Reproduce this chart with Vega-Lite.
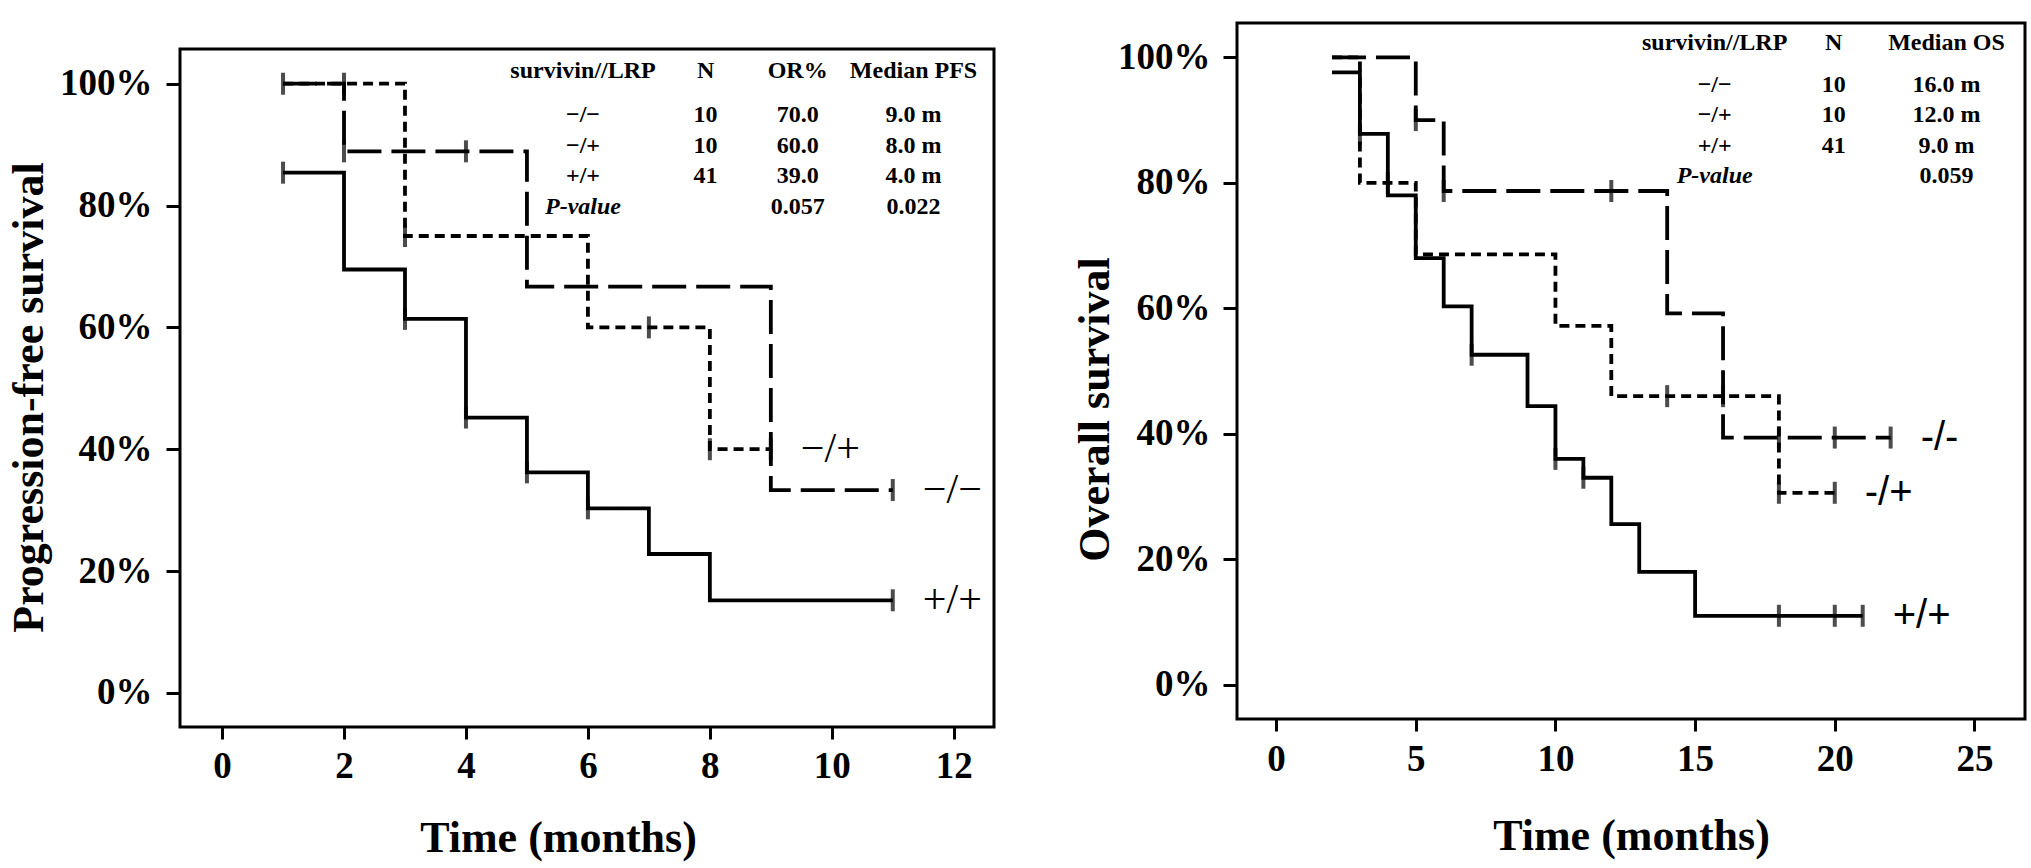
{
  "$schema": "https://vega.github.io/schema/vega-lite/v6.json",
  "background": "white",
  "padding": {"left": 5, "top": 21, "right": 5, "bottom": 5},
  "spacing": 75,
  "datasets": {
    "pfs": [
      {"group": "−/−", "time": 1, "surv": 1.0},
      {"group": "−/−", "time": 2, "surv": 0.889},
      {"group": "−/−", "time": 5, "surv": 0.667},
      {"group": "−/−", "time": 9, "surv": 0.333},
      {"group": "−/−", "time": 11, "surv": 0.333},
      {"group": "−/+", "time": 1, "surv": 1.0},
      {"group": "−/+", "time": 3, "surv": 0.75},
      {"group": "−/+", "time": 6, "surv": 0.6},
      {"group": "−/+", "time": 8, "surv": 0.4},
      {"group": "−/+", "time": 9, "surv": 0.4},
      {"group": "+/+", "time": 1, "surv": 0.854},
      {"group": "+/+", "time": 2, "surv": 0.695},
      {"group": "+/+", "time": 3, "surv": 0.614},
      {"group": "+/+", "time": 4, "surv": 0.452},
      {"group": "+/+", "time": 5, "surv": 0.362},
      {"group": "+/+", "time": 6, "surv": 0.303},
      {"group": "+/+", "time": 7, "surv": 0.228},
      {"group": "+/+", "time": 8, "surv": 0.152},
      {"group": "+/+", "time": 11, "surv": 0.152}
    ],
    "pfsCensor": [
      {"group": "−/−", "time": 1, "surv": 1.0},
      {"group": "−/−", "time": 2, "surv": 0.889},
      {"group": "−/−", "time": 4, "surv": 0.889},
      {"group": "−/−", "time": 11, "surv": 0.333},
      {"group": "−/+", "time": 2, "surv": 1.0},
      {"group": "−/+", "time": 3, "surv": 0.75},
      {"group": "−/+", "time": 7, "surv": 0.6},
      {"group": "−/+", "time": 8, "surv": 0.4},
      {"group": "−/+", "time": 9, "surv": 0.4},
      {"group": "+/+", "time": 1, "surv": 0.854},
      {"group": "+/+", "time": 3, "surv": 0.614},
      {"group": "+/+", "time": 4, "surv": 0.452},
      {"group": "+/+", "time": 5, "surv": 0.362},
      {"group": "+/+", "time": 6, "surv": 0.303},
      {"group": "+/+", "time": 11, "surv": 0.152}
    ],
    "pfsTable": [
      {"row": "h", "c1": "survivin//LRP", "c2": "N", "c3": "OR%", "c4": "Median PFS"},
      {"row": "1", "c1": "−/−", "c2": "10", "c3": "70.0", "c4": "9.0 m"},
      {"row": "2", "c1": "−/+", "c2": "10", "c3": "60.0", "c4": "8.0 m"},
      {"row": "3", "c1": "+/+", "c2": "41", "c3": "39.0", "c4": "4.0 m"},
      {"row": "p", "c1": "P-value", "c2": "", "c3": "0.057", "c4": "0.022"}
    ],
    "os": [
      {"group": "-/-", "time": 2, "surv": 1.0},
      {"group": "-/-", "time": 5, "surv": 0.9},
      {"group": "-/-", "time": 6, "surv": 0.787},
      {"group": "-/-", "time": 14, "surv": 0.592},
      {"group": "-/-", "time": 16, "surv": 0.394},
      {"group": "-/-", "time": 22, "surv": 0.394},
      {"group": "-/+", "time": 2, "surv": 1.0},
      {"group": "-/+", "time": 3, "surv": 0.8},
      {"group": "-/+", "time": 5, "surv": 0.686},
      {"group": "-/+", "time": 10, "surv": 0.572},
      {"group": "-/+", "time": 12, "surv": 0.46},
      {"group": "-/+", "time": 18, "surv": 0.306},
      {"group": "-/+", "time": 20, "surv": 0.306},
      {"group": "+/+", "time": 2, "surv": 0.976},
      {"group": "+/+", "time": 3, "surv": 0.878},
      {"group": "+/+", "time": 4, "surv": 0.78},
      {"group": "+/+", "time": 5, "surv": 0.68},
      {"group": "+/+", "time": 6, "surv": 0.603},
      {"group": "+/+", "time": 7, "surv": 0.526},
      {"group": "+/+", "time": 9, "surv": 0.444},
      {"group": "+/+", "time": 10, "surv": 0.36},
      {"group": "+/+", "time": 11, "surv": 0.33},
      {"group": "+/+", "time": 12, "surv": 0.256},
      {"group": "+/+", "time": 13, "surv": 0.18},
      {"group": "+/+", "time": 15, "surv": 0.11},
      {"group": "+/+", "time": 21, "surv": 0.11}
    ],
    "osCensor": [
      {"group": "-/-", "time": 5, "surv": 0.9},
      {"group": "-/-", "time": 6, "surv": 0.787},
      {"group": "-/-", "time": 12, "surv": 0.787},
      {"group": "-/-", "time": 18, "surv": 0.394},
      {"group": "-/-", "time": 20, "surv": 0.394},
      {"group": "-/-", "time": 22, "surv": 0.394},
      {"group": "-/+", "time": 4, "surv": 0.8},
      {"group": "-/+", "time": 14, "surv": 0.46},
      {"group": "-/+", "time": 16, "surv": 0.46},
      {"group": "-/+", "time": 18, "surv": 0.306},
      {"group": "-/+", "time": 20, "surv": 0.306},
      {"group": "+/+", "time": 3, "surv": 0.878},
      {"group": "+/+", "time": 7, "surv": 0.526},
      {"group": "+/+", "time": 10, "surv": 0.36},
      {"group": "+/+", "time": 11, "surv": 0.33},
      {"group": "+/+", "time": 18, "surv": 0.11},
      {"group": "+/+", "time": 20, "surv": 0.11},
      {"group": "+/+", "time": 21, "surv": 0.11}
    ],
    "osTable": [
      {"row": "h", "c1": "survivin//LRP", "c2": "N", "c3": "Median OS"},
      {"row": "1", "c1": "−/−", "c2": "10", "c3": "16.0 m"},
      {"row": "2", "c1": "−/+", "c2": "10", "c3": "12.0 m"},
      {"row": "3", "c1": "+/+", "c2": "41", "c3": "9.0 m"},
      {"row": "p", "c1": "P-value", "c2": "", "c3": "0.059"}
    ]
  },
  "hconcat": [
    {
      "spacing": 23,
      "vconcat": [
        {
          "width": 814,
          "height": 1,
          "view": {"stroke": null},
          "mark": {"type": "text"},
          "encoding": {"text": {"value": " "}}
        },
        {
          "width": 814,
          "height": 678,
          "resolve": {"scale": {"y": "independent"}},
          "layer": [
            {
              "layer": [
                {
                  "data": {"name": "pfs"},
                  "mark": {"type": "line", "interpolate": "step-after", "strokeWidth": 3.8, "color": "black", "strokeCap": "butt"},
                  "encoding": {
                    "x": {
                      "field": "time", "type": "quantitative",
                      "scale": {"domain": [-0.69, 12.66], "nice": false, "zero": false},
                      "axis": {"values": [0, 2, 4, 6, 8, 10, 12], "format": "d", "title": "Time (months)", "tickSize": 12, "labelPadding": 9, "titleX": 378, "titleY": 111, "titleBaseline": "middle"}
                    },
                    "y": {
                      "field": "surv", "type": "quantitative",
                      "scale": {"domain": [-0.056, 1.057], "nice": false, "zero": false},
                      "axis": {"values": [0, 0.2, 0.4, 0.6, 0.8, 1], "format": ".0%", "title": "Progression-free survival", "tickSize": 14, "labelPadding": 14, "titleX": -151, "titleY": 348, "titleBaseline": "middle", "titleAngle": -90}
                    },
                    "strokeDash": {
                      "field": "group", "type": "nominal",
                      "scale": {"domain": ["−/−", "−/+", "+/+"], "range": [[34, 10], [10, 6], [1, 0]]},
                      "legend": null
                    }
                  }
                },
                {
                  "data": {"name": "pfsCensor"},
                  "mark": {"type": "tick", "orient": "vertical", "size": 22, "thickness": 4, "color": "black"},
                  "encoding": {
                    "x": {"field": "time", "type": "quantitative", "scale": {"domain": [-0.69, 12.66], "nice": false, "zero": false}},
                    "y": {"field": "surv", "type": "quantitative", "scale": {"domain": [-0.056, 1.057], "nice": false, "zero": false}}
                  }
                },
                {
                  "data": {"name": "pfs"},
                  "transform": [{"aggregate": [{"op": "argmax", "field": "time", "as": "last"}], "groupby": ["group"]}],
                  "mark": {"type": "text", "align": "left", "baseline": "middle", "dx": 30, "fontSize": 42, "font": "Liberation Serif", "color": "black"},
                  "encoding": {
                    "x": {"field": "last.time", "type": "quantitative", "scale": {"domain": [-0.69, 12.66], "nice": false, "zero": false}},
                    "y": {"field": "last.surv", "type": "quantitative", "scale": {"domain": [-0.056, 1.057], "nice": false, "zero": false}},
                    "text": {"field": "group"}
                  }
                }
              ]
            },
            {
              "data": {"name": "pfsTable"},
              "layer": [
                {
                  "transform": [{"filter": "datum.row == 'h'"}],
                  "mark": {"type": "text", "fontWeight": "bold", "fontSize": 24, "baseline": "middle", "dy": -13.5, "font": "Liberation Serif", "color": "black"},
                  "encoding": {
                    "x": {"datum": 5.92, "type": "quantitative", "scale": {"domain": [-0.69, 12.66], "nice": false, "zero": false}},
                    "y": {"field": "row", "type": "ordinal", "scale": {"type": "point", "domain": ["h", "1", "2", "3", "p"], "range": [35.5, 157.5], "padding": 0}, "axis": null},
                    "text": {"field": "c1"}
                  }
                },
                {
                  "transform": [{"filter": "datum.row == '1' || datum.row == '2' || datum.row == '3'"}],
                  "mark": {"type": "text", "fontWeight": "bold", "fontSize": 24, "baseline": "middle", "font": "Liberation Serif", "color": "black"},
                  "encoding": {
                    "x": {"datum": 5.92, "type": "quantitative", "scale": {"domain": [-0.69, 12.66], "nice": false, "zero": false}},
                    "y": {"field": "row", "type": "ordinal", "scale": {"type": "point", "domain": ["h", "1", "2", "3", "p"], "range": [35.5, 157.5], "padding": 0}, "axis": null},
                    "text": {"field": "c1"}
                  }
                },
                {
                  "transform": [{"filter": "datum.row == 'p'"}],
                  "mark": {"type": "text", "fontWeight": "bold", "fontStyle": "italic", "fontSize": 24, "baseline": "middle", "font": "Liberation Serif", "color": "black"},
                  "encoding": {
                    "x": {"datum": 5.92, "type": "quantitative", "scale": {"domain": [-0.69, 12.66], "nice": false, "zero": false}},
                    "y": {"field": "row", "type": "ordinal", "scale": {"type": "point", "domain": ["h", "1", "2", "3", "p"], "range": [35.5, 157.5], "padding": 0}, "axis": null},
                    "text": {"field": "c1"}
                  }
                },
                {
                  "transform": [{"filter": "datum.row == 'h'"}],
                  "mark": {"type": "text", "fontWeight": "bold", "fontSize": 24, "baseline": "middle", "dy": -13.5, "font": "Liberation Serif", "color": "black"},
                  "encoding": {
                    "x": {"datum": 7.93, "type": "quantitative", "scale": {"domain": [-0.69, 12.66], "nice": false, "zero": false}},
                    "y": {"field": "row", "type": "ordinal", "scale": {"type": "point", "domain": ["h", "1", "2", "3", "p"], "range": [35.5, 157.5], "padding": 0}, "axis": null},
                    "text": {"field": "c2"}
                  }
                },
                {
                  "transform": [{"filter": "datum.row != 'h'"}],
                  "mark": {"type": "text", "fontWeight": "bold", "fontSize": 24, "baseline": "middle", "font": "Liberation Serif", "color": "black"},
                  "encoding": {
                    "x": {"datum": 7.93, "type": "quantitative", "scale": {"domain": [-0.69, 12.66], "nice": false, "zero": false}},
                    "y": {"field": "row", "type": "ordinal", "scale": {"type": "point", "domain": ["h", "1", "2", "3", "p"], "range": [35.5, 157.5], "padding": 0}, "axis": null},
                    "text": {"field": "c2"}
                  }
                },
                {
                  "transform": [{"filter": "datum.row == 'h'"}],
                  "mark": {"type": "text", "fontWeight": "bold", "fontSize": 24, "baseline": "middle", "dy": -13.5, "font": "Liberation Serif", "color": "black"},
                  "encoding": {
                    "x": {"datum": 9.44, "type": "quantitative", "scale": {"domain": [-0.69, 12.66], "nice": false, "zero": false}},
                    "y": {"field": "row", "type": "ordinal", "scale": {"type": "point", "domain": ["h", "1", "2", "3", "p"], "range": [35.5, 157.5], "padding": 0}, "axis": null},
                    "text": {"field": "c3"}
                  }
                },
                {
                  "transform": [{"filter": "datum.row != 'h'"}],
                  "mark": {"type": "text", "fontWeight": "bold", "fontSize": 24, "baseline": "middle", "font": "Liberation Serif", "color": "black"},
                  "encoding": {
                    "x": {"datum": 9.44, "type": "quantitative", "scale": {"domain": [-0.69, 12.66], "nice": false, "zero": false}},
                    "y": {"field": "row", "type": "ordinal", "scale": {"type": "point", "domain": ["h", "1", "2", "3", "p"], "range": [35.5, 157.5], "padding": 0}, "axis": null},
                    "text": {"field": "c3"}
                  }
                },
                {
                  "transform": [{"filter": "datum.row == 'h'"}],
                  "mark": {"type": "text", "fontWeight": "bold", "fontSize": 24, "baseline": "middle", "dy": -13.5, "font": "Liberation Serif", "color": "black"},
                  "encoding": {
                    "x": {"datum": 11.34, "type": "quantitative", "scale": {"domain": [-0.69, 12.66], "nice": false, "zero": false}},
                    "y": {"field": "row", "type": "ordinal", "scale": {"type": "point", "domain": ["h", "1", "2", "3", "p"], "range": [35.5, 157.5], "padding": 0}, "axis": null},
                    "text": {"field": "c4"}
                  }
                },
                {
                  "transform": [{"filter": "datum.row != 'h'"}],
                  "mark": {"type": "text", "fontWeight": "bold", "fontSize": 24, "baseline": "middle", "font": "Liberation Serif", "color": "black"},
                  "encoding": {
                    "x": {"datum": 11.34, "type": "quantitative", "scale": {"domain": [-0.69, 12.66], "nice": false, "zero": false}},
                    "y": {"field": "row", "type": "ordinal", "scale": {"type": "point", "domain": ["h", "1", "2", "3", "p"], "range": [35.5, 157.5], "padding": 0}, "axis": null},
                    "text": {"field": "c4"}
                  }
                }
              ]
            }
          ]
        }
      ]
    },
    {
      "width": 788,
      "height": 696,
      "resolve": {"scale": {"y": "independent"}},
      "layer": [
        {
          "layer": [
            {
              "data": {"name": "os"},
              "mark": {"type": "line", "interpolate": "step-after", "strokeWidth": 3.8, "color": "black", "strokeCap": "butt"},
              "encoding": {
                "x": {
                  "field": "time", "type": "quantitative",
                  "scale": {"domain": [-1.4, 26.81], "nice": false, "zero": false},
                  "axis": {"values": [0, 5, 10, 15, 20, 25], "format": "d", "title": "Time (months)", "tickSize": 12, "labelPadding": 10, "titleY": 117, "titleBaseline": "middle"}
                },
                "y": {
                  "field": "surv", "type": "quantitative",
                  "scale": {"domain": [-0.0545, 1.0547], "nice": false, "zero": false},
                  "axis": {"values": [0, 0.2, 0.4, 0.6, 0.8, 1], "format": ".0%", "title": "Overall survival", "tickSize": 14, "labelPadding": 13, "titleX": -142, "titleY": 386, "titleBaseline": "middle", "titleAngle": -90}
                },
                "strokeDash": {
                  "field": "group", "type": "nominal",
                  "scale": {"domain": ["-/-", "-/+", "+/+"], "range": [[34, 10], [10, 6], [1, 0]]},
                  "legend": null
                }
              }
            },
            {
              "data": {"name": "osCensor"},
              "mark": {"type": "tick", "orient": "vertical", "size": 22, "thickness": 4, "color": "black"},
              "encoding": {
                "x": {"field": "time", "type": "quantitative", "scale": {"domain": [-1.4, 26.81], "nice": false, "zero": false}},
                "y": {"field": "surv", "type": "quantitative", "scale": {"domain": [-0.0545, 1.0547], "nice": false, "zero": false}}
              }
            },
            {
              "data": {"name": "os"},
              "transform": [{"aggregate": [{"op": "argmax", "field": "time", "as": "last"}], "groupby": ["group"]}],
              "mark": {"type": "text", "align": "left", "baseline": "middle", "dx": 30, "fontSize": 40, "font": "Liberation Sans", "color": "black"},
              "encoding": {
                "x": {"field": "last.time", "type": "quantitative", "scale": {"domain": [-1.4, 26.81], "nice": false, "zero": false}},
                "y": {"field": "last.surv", "type": "quantitative", "scale": {"domain": [-0.0545, 1.0547], "nice": false, "zero": false}},
                "text": {"field": "group"}
              }
            }
          ]
        },
        {
          "data": {"name": "osTable"},
          "layer": [
            {
              "transform": [{"filter": "datum.row == 'h'"}],
              "mark": {"type": "text", "fontWeight": "bold", "fontSize": 24, "baseline": "middle", "dy": -11, "font": "Liberation Serif", "color": "black"},
              "encoding": {
                "x": {"datum": 15.7, "type": "quantitative", "scale": {"domain": [-1.4, 26.81], "nice": false, "zero": false}},
                "y": {"field": "row", "type": "ordinal", "scale": {"type": "point", "domain": ["h", "1", "2", "3", "p"], "range": [31, 153], "padding": 0}, "axis": null},
                "text": {"field": "c1"}
              }
            },
            {
              "transform": [{"filter": "datum.row == '1' || datum.row == '2' || datum.row == '3'"}],
              "mark": {"type": "text", "fontWeight": "bold", "fontSize": 24, "baseline": "middle", "font": "Liberation Serif", "color": "black"},
              "encoding": {
                "x": {"datum": 15.7, "type": "quantitative", "scale": {"domain": [-1.4, 26.81], "nice": false, "zero": false}},
                "y": {"field": "row", "type": "ordinal", "scale": {"type": "point", "domain": ["h", "1", "2", "3", "p"], "range": [31, 153], "padding": 0}, "axis": null},
                "text": {"field": "c1"}
              }
            },
            {
              "transform": [{"filter": "datum.row == 'p'"}],
              "mark": {"type": "text", "fontWeight": "bold", "fontStyle": "italic", "fontSize": 24, "baseline": "middle", "font": "Liberation Serif", "color": "black"},
              "encoding": {
                "x": {"datum": 15.7, "type": "quantitative", "scale": {"domain": [-1.4, 26.81], "nice": false, "zero": false}},
                "y": {"field": "row", "type": "ordinal", "scale": {"type": "point", "domain": ["h", "1", "2", "3", "p"], "range": [31, 153], "padding": 0}, "axis": null},
                "text": {"field": "c1"}
              }
            },
            {
              "transform": [{"filter": "datum.row == 'h'"}],
              "mark": {"type": "text", "fontWeight": "bold", "fontSize": 24, "baseline": "middle", "dy": -11, "font": "Liberation Serif", "color": "black"},
              "encoding": {
                "x": {"datum": 19.96, "type": "quantitative", "scale": {"domain": [-1.4, 26.81], "nice": false, "zero": false}},
                "y": {"field": "row", "type": "ordinal", "scale": {"type": "point", "domain": ["h", "1", "2", "3", "p"], "range": [31, 153], "padding": 0}, "axis": null},
                "text": {"field": "c2"}
              }
            },
            {
              "transform": [{"filter": "datum.row != 'h'"}],
              "mark": {"type": "text", "fontWeight": "bold", "fontSize": 24, "baseline": "middle", "font": "Liberation Serif", "color": "black"},
              "encoding": {
                "x": {"datum": 19.96, "type": "quantitative", "scale": {"domain": [-1.4, 26.81], "nice": false, "zero": false}},
                "y": {"field": "row", "type": "ordinal", "scale": {"type": "point", "domain": ["h", "1", "2", "3", "p"], "range": [31, 153], "padding": 0}, "axis": null},
                "text": {"field": "c2"}
              }
            },
            {
              "transform": [{"filter": "datum.row == 'h'"}],
              "mark": {"type": "text", "fontWeight": "bold", "fontSize": 24, "baseline": "middle", "dy": -11, "font": "Liberation Serif", "color": "black"},
              "encoding": {
                "x": {"datum": 24.0, "type": "quantitative", "scale": {"domain": [-1.4, 26.81], "nice": false, "zero": false}},
                "y": {"field": "row", "type": "ordinal", "scale": {"type": "point", "domain": ["h", "1", "2", "3", "p"], "range": [31, 153], "padding": 0}, "axis": null},
                "text": {"field": "c3"}
              }
            },
            {
              "transform": [{"filter": "datum.row != 'h'"}],
              "mark": {"type": "text", "fontWeight": "bold", "fontSize": 24, "baseline": "middle", "font": "Liberation Serif", "color": "black"},
              "encoding": {
                "x": {"datum": 24.0, "type": "quantitative", "scale": {"domain": [-1.4, 26.81], "nice": false, "zero": false}},
                "y": {"field": "row", "type": "ordinal", "scale": {"type": "point", "domain": ["h", "1", "2", "3", "p"], "range": [31, 153], "padding": 0}, "axis": null},
                "text": {"field": "c3"}
              }
            }
          ]
        }
      ]
    }
  ],
  "config": {
    "view": {"stroke": "black", "strokeWidth": 3},
    "axis": {
      "domain": false,
      "grid": false,
      "tickColor": "black",
      "tickWidth": 3,
      "labelColor": "black",
      "labelFont": "Liberation Serif",
      "labelFontWeight": "bold",
      "labelFontSize": 37,
      "labelFlush": false,
      "labelOverlap": false,
      "titleColor": "black",
      "titleFont": "Liberation Serif",
      "titleFontWeight": "bold",
      "titleFontSize": 44
    }
  }
}
